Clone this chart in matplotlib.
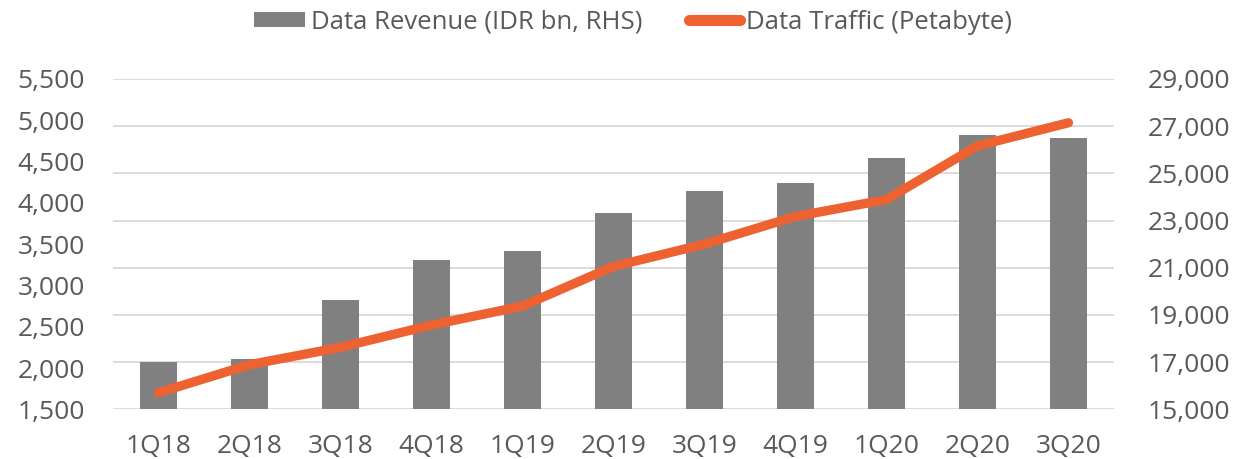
import matplotlib
matplotlib.use("Agg")
import matplotlib.pyplot as plt
from matplotlib.ticker import FuncFormatter
from matplotlib.patches import Patch
from matplotlib.lines import Line2D

categories = ["1Q18", "2Q18", "3Q18", "4Q18", "1Q19", "2Q19", "3Q19", "4Q19", "1Q20", "2Q20", "3Q20"]
data_revenue = [17020, 17150, 19640, 21330, 21715, 23300, 24250, 24600, 25650, 26620, 26510]
data_traffic = [1700, 2040, 2250, 2520, 2750, 3230, 3500, 3835, 4040, 4690, 4970]
left_ticks = [1500, 2000, 2500, 3000, 3500, 4000, 4500, 5000, 5500]
right_ticks = [15000, 17000, 19000, 21000, 23000, 25000, 27000, 29000]

plt.rcParams['font.family'] = ['Open Sans', 'DejaVu Sans']
text_color = "#595959"

fig = plt.figure(figsize=(12.48, 4.59), dpi=100)
ax = fig.add_axes([0.0905, 0.1083, 0.8021, 0.7196])
ax2 = ax.twinx()

x = list(range(len(categories)))
ax2.bar(x, data_revenue, width=0.4, color="#808080", zorder=2)
ax.plot(x, data_traffic, color="#EE6231", linewidth=6.7, solid_capstyle="round",
        solid_joinstyle="round", zorder=3)

ax.set_zorder(ax2.get_zorder() + 1)
ax.patch.set_visible(False)

ax.set_xlim(-0.5, len(categories) - 0.5)
ax.set_ylim(1500, 5500)
ax2.set_ylim(15000, 29000)
ax.set_yticks(left_ticks)
ax2.set_yticks(right_ticks)
ax.set_xticks(x)
ax.set_xticklabels(categories)

fmt = FuncFormatter(lambda v, p: f"{int(v):,}")
ax.yaxis.set_major_formatter(fmt)
ax2.yaxis.set_major_formatter(fmt)

ax2.grid(axis="y", color="#d9d9d9", linewidth=1.3)
ax2.set_axisbelow(True)

for a in (ax, ax2):
    for s in a.spines.values():
        s.set_visible(False)
    a.tick_params(length=0, labelsize=19, colors=text_color)
ax.tick_params(axis="y", pad=20)
ax2.tick_params(axis="y", pad=24.5)
ax.tick_params(axis="x", pad=17.5)

handles = [Patch(facecolor="#808080", edgecolor="none"),
           Line2D([0], [0], color="#EE6231", linewidth=8, solid_capstyle="round")]
leg = fig.legend(handles, ["Data Revenue (IDR bn, RHS)", "Data Traffic (Petabyte)"],
                 loc="center", bbox_to_anchor=(0.507, 0.952), ncol=2, frameon=False,
                 fontsize=18.5, handlelength=2.0, handleheight=0.55, handletextpad=0.23,
                 columnspacing=1.8)
for t in leg.get_texts():
    t.set_color(text_color)

fig.savefig("out.png", dpi=100)
